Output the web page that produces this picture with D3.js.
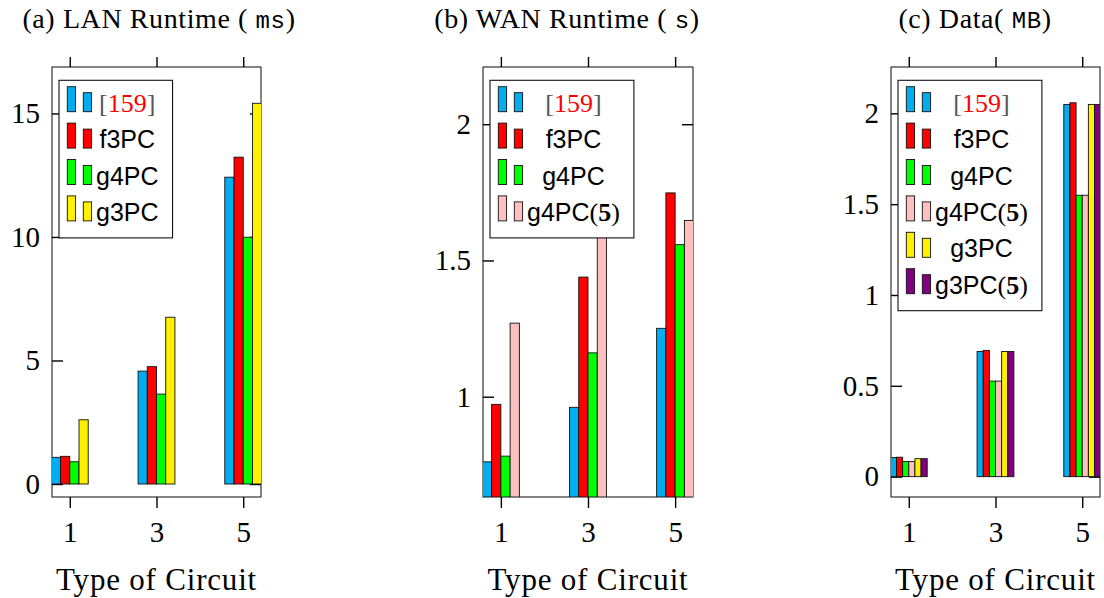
<!DOCTYPE html>
<html>
<head>
<meta charset="utf-8">
<script src="https://cdn.jsdelivr.net/npm/d3@7"></script>
<style>
body { margin: 0; background: #fff; }
</style>
</head>
<body>
<div id="container"></div>
<script>
//----------------------------DATA------------------------------//
const circuits = [1, 3, 5];
const xTickLabels = ["1", "3", "5"];

// (a) LAN runtime (ms)
const lanRef  = [1.08, 4.57, 12.42];
const lanF3PC = [1.12, 4.75, 13.23];
const lanG4PC = [0.90, 3.64, 9.99];
const lanG3PC = [2.60, 6.75, 15.41];
const lanTicks = [0, 5, 10, 15];

// (b) WAN runtime (s)
const wanRef   = [0.761, 0.961, 1.251];
const wanF3PC  = [0.972, 1.439, 1.748];
const wanG4PC  = [0.782, 1.161, 1.558];
const wanG4PC5 = [1.270, 1.62, 1.647];
const wanTicks = [1, 1.5, 2];

// (c) data (MB)
const dataRef   = [0.105, 0.689, 2.049];
const dataF3PC  = [0.107, 0.695, 2.058];
const dataG4PC  = [0.083, 0.526, 1.549];
const dataG4PC5 = [0.083, 0.526, 1.549];
const dataG3PC  = [0.099, 0.689, 2.049];
const dataG3PC5 = [0.099, 0.689, 2.049];
const dataTicks = [0, 0.5, 1, 1.5, 2];

const seriesColor = {
  ref: "#00aeef", f3PC: "#ff0000", g4PC: "#00ff00",
  g4PC5: "#ffbfbf", g3PC: "#fff000", g3PC5: "#800080"
};

//------------------------1. PREPARATION------------------------//
const width = 1104;
const height = 598;
const frameTop = 67;
const frameBottom = 497;
const serif = "'Liberation Serif', 'Times New Roman', serif";
const sans = "'Liberation Sans', Arial, sans-serif";
const mono = "'Liberation Mono', 'DejaVu Sans Mono', monospace";

const panels = [
  { id: "a", title: ["(a) LAN Runtime ( ", "ms", ")"], titleX: 159,
    left: 52, right: 261, yDomain: [-0.526, 16.88], ticks: lanTicks,
    series: [["ref", lanRef], ["f3PC", lanF3PC], ["g4PC", lanG4PC], ["g3PC", lanG3PC]] },
  { id: "b", title: ["(b) WAN Runtime ( ", "s", ")"], titleX: 567,
    left: 483, right: 693, yDomain: [0.632, 2.210], ticks: wanTicks,
    series: [["ref", wanRef], ["f3PC", wanF3PC], ["g4PC", wanG4PC], ["g4PC5", wanG4PC5]] },
  { id: "c", title: ["(c) Data( ", "MB", ")"], titleX: 975,
    left: 891, right: 1100, yDomain: [-0.112, 2.255], ticks: dataTicks,
    series: [["ref", dataRef], ["f3PC", dataF3PC], ["g4PC", dataG4PC], ["g4PC5", dataG4PC5],
             ["g3PC", dataG3PC], ["g3PC5", dataG3PC5]] }
];

const svg = d3.select("div#container").append("svg")
    .attr("width", width)
    .attr("height", height);

// legend label, serif / sans pieces like the LaTeX original
function legendLabel(text, key) {
  if (key === "ref") {
    text.append("tspan").style("font-family", serif).style("font-size", "26px").attr("fill", "#555").text("[");
    text.append("tspan").style("font-family", serif).style("font-size", "26px").attr("fill", "#ff0000").text("159");
    text.append("tspan").style("font-family", serif).style("font-size", "26px").attr("fill", "#555").text("]");
    return;
  }
  const base = key.replace("5", "");
  text.append("tspan").style("font-family", sans).style("font-size", "25px").text(base);
  if (key.endsWith("5")) {
    text.append("tspan").style("font-family", serif).style("font-size", "26px").text("(");
    text.append("tspan").style("font-family", serif).style("font-size", "26px").style("font-weight", "bold").text("5");
    text.append("tspan").style("font-family", serif).style("font-size", "26px").text(")");
  }
}

//-------------------------2. DRAWING---------------------------//
panels.forEach(function(p) {
  const g = svg.append("g");

  const xScale = d3.scaleLinear().domain([0.59, 5.41]).range([p.left, p.right]);
  const yScale = d3.scaleLinear().domain(p.yDomain).range([frameBottom, frameTop]);

  // title
  const title = g.append("text")
      .attr("x", p.titleX)
      .attr("y", 28)
      .attr("text-anchor", "middle")
      .style("font-family", serif)
      .style("font-size", "28px")
      .style("letter-spacing", "0.6px");
  title.append("tspan").text(p.title[0]);
  title.append("tspan").style("font-family", mono).style("font-size", "24px").text(p.title[1]);
  title.append("tspan").text(p.title[2]);

  // frame
  g.append("rect")
      .attr("x", p.left).attr("y", frameTop)
      .attr("width", p.right - p.left).attr("height", frameBottom - frameTop)
      .attr("fill", "none").attr("stroke", "#222").attr("stroke-width", 1.1);

  //----------------------------AXES------------------------------//
  const yaxis = d3.axisLeft(yScale).tickValues(p.ticks).tickSize(-11).tickPadding(12)
      .tickFormat(function(d) { return String(d); });
  const yaxisR = d3.axisRight(yScale).tickValues(p.ticks).tickSize(-11).tickFormat("");
  const xaxis = d3.axisBottom(xScale).tickValues(circuits).tickSize(11).tickPadding(13)
      .tickFormat(function(d, i) { return xTickLabels[i]; });
  const xaxisT = d3.axisTop(xScale).tickValues(circuits).tickSize(10).tickFormat("");

  const axes = [
    g.append("g").attr("transform", "translate(" + p.left + ",0)").call(yaxis),
    g.append("g").attr("transform", "translate(" + p.right + ",0)").call(yaxisR),
    g.append("g").attr("transform", "translate(0," + frameBottom + ")").call(xaxis),
    g.append("g").attr("transform", "translate(0," + frameTop + ")").call(xaxisT)
  ];
  axes.forEach(function(a) {
    a.select(".domain").remove();
    a.selectAll("line").attr("stroke", "#000").attr("stroke-width", 1.4);
    a.selectAll("text")
      .attr("fill", "#000")
      .style("font-family", serif)
      .style("font-size", "29px");
  });

  // x label
  g.append("text")
      .attr("x", (p.left + p.right) / 2)
      .attr("y", 590)
      .attr("text-anchor", "middle")
      .style("font-family", serif)
      .style("font-size", "31px")
      .style("letter-spacing", "0.8px")
      .text("Type of Circuit");

  //----------------------------BARS------------------------------//
  g.append("clipPath").attr("id", "clip-" + p.id)
    .append("rect")
      .attr("x", p.left).attr("y", frameTop)
      .attr("width", p.right - p.left).attr("height", frameBottom - frameTop);

  const n = p.series.length;
  const barW = xScale(1 + 0.85 / n) - xScale(1);
  const y0 = yScale(Math.max(0, p.yDomain[0]));

  const bars = g.append("g").attr("clip-path", "url(#clip-" + p.id + ")");
  p.series.forEach(function(s, i) {
    bars.selectAll(null)
      .data(s[1])
      .enter()
      .append("rect")
      .attr("x", function(d, j) { return xScale(circuits[j]) + (i - n / 2) * barW; })
      .attr("y", function(d) { return yScale(d); })
      .attr("width", barW)
      .attr("height", function(d) { return y0 - yScale(d); })
      .attr("fill", seriesColor[s[0]])
      .attr("stroke", "#111")
      .attr("stroke-width", 0.9);
  });

  //---------------------------LEGEND-----------------------------//
  const lx = p.left + 7;
  const ly = frameTop + 13.3;
  const rowH = 36.4;
  const legend = g.append("g");
  const box = legend.append("rect")
      .attr("x", lx).attr("y", ly)
      .attr("fill", "#fff").attr("stroke", "#111").attr("stroke-width", 1.1);

  const labels = [];
  p.series.forEach(function(s, i) {
    const base = ly + 31.4 + i * rowH;
    legend.append("rect")
        .attr("x", lx + 8.3).attr("y", base - 25)
        .attr("width", 8.3).attr("height", 25)
        .attr("fill", seriesColor[s[0]]).attr("stroke", "#111").attr("stroke-width", 0.9);
    legend.append("rect")
        .attr("x", lx + 24.3).attr("y", base - 19)
        .attr("width", 8.3).attr("height", 19)
        .attr("fill", seriesColor[s[0]]).attr("stroke", "#111").attr("stroke-width", 0.9);
    const t = legend.append("text").attr("y", base).attr("text-anchor", "middle").attr("fill", "#000");
    legendLabel(t, s[0]);
    labels.push(t);
  });
  const maxW = d3.max(labels, function(t) { return t.node().getComputedTextLength(); });
  labels.forEach(function(t) { t.attr("x", lx + 37 + maxW / 2); });
  box.attr("width", 37 + maxW + 14).attr("height", 12 + n * rowH);
});
</script>
</body>
</html>
